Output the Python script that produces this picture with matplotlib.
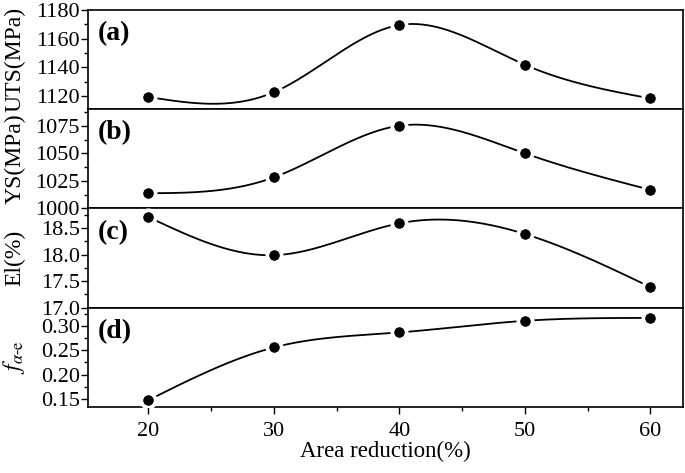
import numpy as np
import matplotlib
matplotlib.use("Agg")
import matplotlib.pyplot as plt
from matplotlib.ticker import MultipleLocator

plt.rcParams['font.family'] = ['Liberation Serif', 'DejaVu Serif']
plt.rcParams['mathtext.fontset'] = 'stix'

# data
area_reduction = [20, 30, 40, 50, 60]
uts = [1119.5, 1122.8, 1169.5, 1141.9, 1118.5]
ys = [1013.8, 1028.2, 1075.0, 1050.0, 1016.9]
el = [18.71, 17.99, 18.59, 18.39, 17.39]
f_ae = [0.147, 0.256, 0.287, 0.311, 0.317]

ylabels = ['UTS(MPa)', 'YS(MPa)', 'El(%)', r'$f_{\alpha\mathrm{\text{-}e}}$']
panel_tags = ['(a)', '(b)', '(c)', '(d)']
ylims = [(1111, 1180), (1000, 1090), (17.0, 18.87), (0.133, 0.338)]
major = [20, 25, 0.5, 0.05]
minor = [10, 12.5, 0.25, 0.025]


def natural_spline(x, y, n=300):
    # smooth connecting line through the points (natural cubic spline)
    x = np.asarray(x, float)
    y = np.asarray(y, float)
    k = len(x)
    h = np.diff(x)
    A = np.zeros((k, k))
    b = np.zeros(k)
    A[0, 0] = A[-1, -1] = 1
    for i in range(1, k - 1):
        A[i, i - 1] = h[i - 1]
        A[i, i] = 2 * (h[i - 1] + h[i])
        A[i, i + 1] = h[i]
        b[i] = 6 * ((y[i + 1] - y[i]) / h[i] - (y[i] - y[i - 1]) / h[i - 1])
    M = np.linalg.solve(A, b)
    xs = np.linspace(x[0], x[-1], n)
    idx = np.clip(np.searchsorted(x, xs) - 1, 0, k - 2)
    x0, x1 = x[idx], x[idx + 1]
    hh = x1 - x0
    ys_ = (M[idx] * (x1 - xs) ** 3 / (6 * hh) + M[idx + 1] * (xs - x0) ** 3 / (6 * hh)
           + (y[idx] / hh - M[idx] * hh / 6) * (x1 - xs)
           + (y[idx + 1] / hh - M[idx + 1] * hh / 6) * (xs - x0))
    return xs, ys_


fig, axes = plt.subplots(4, 1, sharex=True, figsize=(6.85, 4.73), dpi=100)
fig.subplots_adjust(left=0.1285, right=0.997, top=0.979, bottom=0.1395, hspace=0)

for ax, vals, lab, tag, yl, mj, mn in zip(axes, [uts, ys, el, f_ae], ylabels,
                                           panel_tags, ylims, major, minor):
    xs, yv = natural_spline(area_reduction, vals)
    ax.plot(xs, yv, color='black', lw=1.3, zorder=2)
    ax.plot(area_reduction, vals, 'o', color='black', ms=10, mec='white', mew=3, zorder=3)
    ax.plot(area_reduction, vals, 'o', color='black', ms=7.5, mew=0, zorder=4)
    ax.set_ylim(*yl)
    ax.yaxis.set_major_locator(MultipleLocator(mj))
    ax.yaxis.set_minor_locator(MultipleLocator(mn))
    ax.set_ylabel(lab, fontsize=17)
    ax.yaxis.set_label_coords(-0.105, 0.5)
    ax.text(0.016, 0.76, tag, transform=ax.transAxes, fontsize=20,
            fontweight='bold', va='center', ha='left')
    ax.tick_params(axis='y', which='major', direction='out', length=5, width=1,
                   labelsize=16, pad=1)
    ax.tick_params(axis='y', which='minor', direction='out', length=3, width=1)
    ax.tick_params(axis='x', which='both', bottom=False, labelbottom=False)
    for s in ax.spines.values():
        s.set_linewidth(1.2)

axes[-1].yaxis.set_label_coords(-0.102, 0.5)

axd = axes[-1]
axd.set_xlim(15.2, 62.6)
axd.xaxis.set_major_locator(MultipleLocator(10))
axd.xaxis.set_minor_locator(MultipleLocator(5))
axd.tick_params(axis='x', which='major', bottom=True, labelbottom=True,
                direction='out', length=5, width=1, labelsize=16, pad=6)
axd.tick_params(axis='x', which='minor', bottom=True, direction='out',
                length=3, width=1)
axd.set_xlabel('Area reduction(%)', fontsize=16.5, labelpad=0)

fig.savefig('out.png', dpi=100)
